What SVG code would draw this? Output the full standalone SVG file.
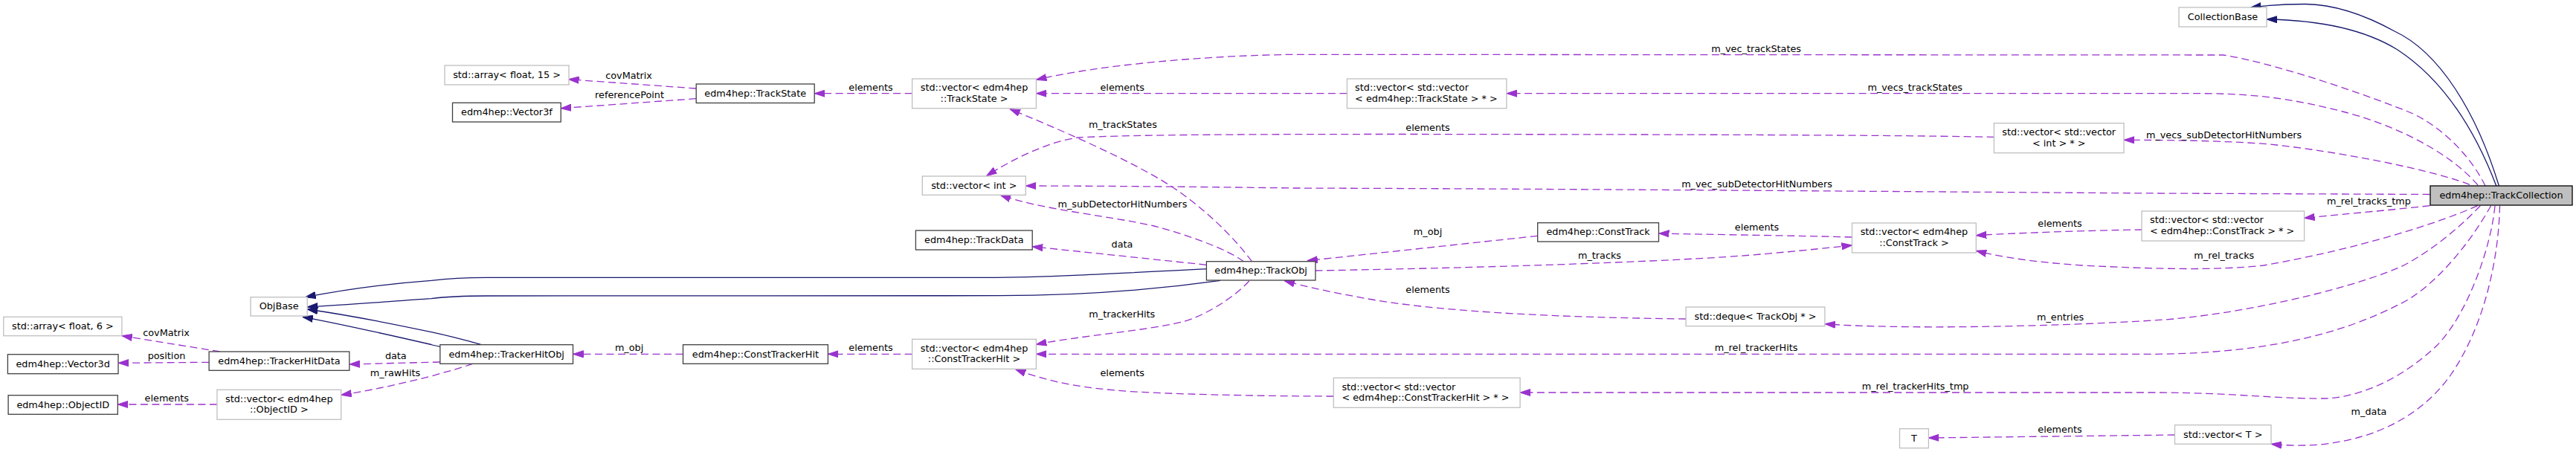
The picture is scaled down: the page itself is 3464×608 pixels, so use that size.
<svg xmlns="http://www.w3.org/2000/svg" width="3464" height="608" viewBox="0 0 3464 608">
<style>
text{font-family:"DejaVu Sans","Liberation Sans",sans-serif;font-size:12.8px;fill:#000}
.m{text-anchor:middle}
.s{text-anchor:start}
.doc{fill:#fff;stroke:#404040;stroke-width:1.3}
.ext{fill:#fff;stroke:#bfbfbf;stroke-width:1.3}
.root{fill:#bfbfbf;stroke:#000;stroke-width:1.3}
.e{fill:none;stroke:#9a32cd;stroke-width:1.3;stroke-dasharray:10,5.5;marker-end:url(#ap)}
.i{fill:none;stroke:#191970;stroke-width:1.3;marker-end:url(#ab)}
</style>
<defs>
<marker id="ap" viewBox="0 0 14 10" refX="14" refY="5" markerWidth="14" markerHeight="10" markerUnits="userSpaceOnUse" orient="auto"><path d="M0,0.4L14,5L0,9.6z" fill="#9a32cd" stroke="#9a32cd" stroke-width="1"/></marker>
<marker id="ab" viewBox="0 0 14 10" refX="14" refY="5" markerWidth="14" markerHeight="10" markerUnits="userSpaceOnUse" orient="auto"><path d="M0,0.4L14,5L0,9.6z" fill="#191970" stroke="#191970" stroke-width="1"/></marker>
</defs>
<rect width="3464" height="608" fill="#fff"/>
<g id="connectors">
<path class="i" d="M3360.4,250 C3330,150 3280,70 3220,42 C3180,20 3140,6 3100,5.5 C3075,5.5 3050,7 3026.6,10"/>
<path class="i" d="M3356.8,250 C3330,180 3290,110 3223.7,66.7 C3180,40 3120,27 3048.2,26"/>
<path class="i" d="M1622.4,361.7 C1500,368 1400,373.3 1326,373.3 L654,373.3 C620,373.5 600,375 580,377.3 C530,381 470,388 410.6,399.7"/>
<path class="i" d="M1640.9,377.3 C1550,390 1450,397.7 1344.9,397.7 L654,398 C620,398 600,399 580,401.7 C530,405 470,410 413.2,413"/>
<path class="i" d="M646.6,463.3 C620,456 600,451 580,446.7 C530,436 470,424 413.2,416"/>
<path class="i" d="M591.8,466.3 C585,465 583,464.5 580,463.5 C530,452 460,436 406.9,426.3"/>
<path class="e" d="M3342,250 C3325,215 3290,175 3245,153 C3190,130 3060,85 2990,74 L1737,73.3 C1620,75 1480,87 1393.4,107.3"/>
<path class="e" d="M3332,249 C3290,200 3210,165 3150,150 C3080,132 3030,126 2960,125.7 L2026,125.7"/>
<path class="e" d="M1811.4,125.7 L1393.4,125.7"/>
<path class="e" d="M1226.6,125.7 L1095.3,125.7"/>
<path class="e" d="M936.2,119 L764.6,106.7"/>
<path class="e" d="M936.2,132.7 L754.2,145.7"/>
<path class="e" d="M2681.4,184.3 C2500,181 2200,181 1900,180.5 C1700,180.5 1520,181 1450,185 C1410,190 1360,215 1326.5,236.7"/>
<path class="e" d="M3321,248.3 C3260,225 3120,200 3044,193.3 C2980,189 2920,188.5 2856,188.3"/>
<path class="e" d="M3267.6,261.5 L2900,260 C2600,258 2100,254 1740,253 C1600,251 1450,250 1379.3,250"/>
<path class="e" d="M1683.4,351.7 C1660,320 1620,280 1574,250 C1520,215 1420,172 1357.9,146.7"/>
<path class="e" d="M1672.3,351.7 C1650,335 1600,317 1552,304 C1490,290 1400,282 1345,262.3"/>
<path class="e" d="M1622.4,356.3 L1388.2,331.7"/>
<path class="e" d="M2067.7,317.3 L1757.8,350.7"/>
<path class="e" d="M1768.9,364 C1900,362 2150,356 2320,345.7 C2400,340 2460,333 2490.5,330"/>
<path class="e" d="M2490.5,319 C2420,317 2300,315.5 2230.5,314"/>
<path class="e" d="M2880.4,309 C2800,310 2700,314 2657.3,316.7"/>
<path class="e" d="M3267.6,276.7 C3200,284 3130,290 3098.6,293.3"/>
<path class="e" d="M3331.6,276.7 C3280,300 3170,335 3044,357 C2980,364 2900,362 2800,357 C2740,353 2690,346 2657.3,337.3"/>
<path class="e" d="M3335.2,276.7 C3300,315 3250,350 3224,360.7 C3150,392 3000,425 2900,430.7 C2750,440 2550,443 2453.9,435.7"/>
<path class="e" d="M2267.1,429 C2100,427 1950,420 1851,404 C1800,395 1760,387 1727,377.5"/>
<path class="e" d="M3349.6,276.7 C3320,330 3270,390 3223.7,410.7 C3150,448 3050,475 2900,476.3 L1393.4,476.3"/>
<path class="e" d="M3355,277 C3350,330 3320,420 3277.7,464 C3240,500 3190,530 3133.8,535.7 C3080,538 3000,528 2900,528 L2044.1,528"/>
<path class="e" d="M1793.3,533 C1700,533 1550,530 1500,525 C1440,520 1400,510 1365.3,496.7"/>
<path class="e" d="M1226.6,476.3 L1113.4,476.3"/>
<path class="e" d="M1679.7,378 C1660,400 1620,425 1590,433 C1540,445 1450,452 1393.4,463.3"/>
<path class="e" d="M918.5,476.3 L770.5,476.3"/>
<path class="e" d="M591.8,487 L469.8,490"/>
<path class="e" d="M635.5,489.3 C620,495 600,500 580,506 C540,516 500,525 458.7,531.3"/>
<path class="e" d="M295.9,473 L163.9,451.7"/>
<path class="e" d="M281.1,487.3 L159,488.3"/>
<path class="e" d="M291.9,544 L158.3,544"/>
<path class="e" d="M2924.5,585 L2593.4,589"/>
<path class="e" d="M3361.5,276.7 C3360,350 3340,440 3295.7,504 C3260,555 3200,590 3120,598 C3095,600 3070,599 3054,597.3"/>
<text class="m" x="2361.6" y="69.7">m_vec_trackStates</text>
<text class="m" x="2575.2" y="122.3">m_vecs_trackStates</text>
<text class="m" x="1509.2" y="122.3">elements</text>
<text class="m" x="1171" y="122.3">elements</text>
<text class="m" x="845.6" y="105.7">covMatrix</text>
<text class="m" x="846.5" y="131.7">referencePoint</text>
<text class="m" x="1920" y="176.3">elements</text>
<text class="m" x="2990.6" y="186">m_vecs_subDetectorHitNumbers</text>
<text class="m" x="2362.5" y="252.3">m_vec_subDetectorHitNumbers</text>
<text class="m" x="1509.9" y="171.7">m_trackStates</text>
<text class="m" x="1509.4" y="279">m_subDetectorHitNumbers</text>
<text class="m" x="1509" y="332.7">data</text>
<text class="m" x="1920" y="315.7">m_obj</text>
<text class="m" x="2151" y="348">m_tracks</text>
<text class="m" x="2362.5" y="310">elements</text>
<text class="m" x="2770" y="304.7">elements</text>
<text class="m" x="3185.4" y="275.3">m_rel_tracks_tmp</text>
<text class="m" x="2990.8" y="347.7">m_rel_tracks</text>
<text class="m" x="2770.6" y="431.3">m_entries</text>
<text class="m" x="1920" y="394.3">elements</text>
<text class="m" x="2361.6" y="472">m_rel_trackerHits</text>
<text class="m" x="2575.6" y="524">m_rel_trackerHits_tmp</text>
<text class="m" x="1509.2" y="506">elements</text>
<text class="m" x="1171" y="472.3">elements</text>
<text class="m" x="1508.8" y="427">m_trackerHits</text>
<text class="m" x="846.1" y="472.3">m_obj</text>
<text class="m" x="532.3" y="483">data</text>
<text class="m" x="531.5" y="506.3">m_rawHits</text>
<text class="m" x="223.6" y="452">covMatrix</text>
<text class="m" x="224" y="483">position</text>
<text class="m" x="224.3" y="540.3">elements</text>
<text class="m" x="2770" y="582.3">elements</text>
<text class="m" x="3185.4" y="558.3">m_data</text>
</g>
<g id="n_CollectionBase"><rect class="ext" x="2930" y="10" width="118" height="26"/><text class="m" x="2989" y="27">CollectionBase</text></g>
<g id="n_TrackCollection"><rect class="root" x="3268" y="250" width="191" height="26"/><text class="m" x="3363.5" y="267">edm4hep::TrackCollection</text></g>
<g id="n_array15"><rect class="ext" x="598" y="88" width="167" height="26"/><text class="m" x="681.5" y="105">std::array&lt; float, 15 &gt;</text></g>
<g id="n_Vector3f"><rect class="doc" x="608.5" y="138.3" width="145.7" height="25.7"/><text class="m" x="681.4" y="155.2">edm4hep::Vector3f</text></g>
<g id="n_TrackState"><rect class="doc" x="936.2" y="113" width="159" height="25.5"/><text class="m" x="1015.7" y="129.7">edm4hep::TrackState</text></g>
<g id="n_vecTrackState"><rect class="ext" x="1226.6" y="106" width="166.8" height="39.7"/><text class="m" x="1310" y="122.1">std::vector&lt; edm4hep</text><text class="m" x="1310" y="136.6">::TrackState &gt;</text></g>
<g id="n_vecvecTrackState"><rect class="ext" x="1811.4" y="106" width="214.5" height="39.7"/><text class="s" x="1822.1" y="122.1">std::vector&lt; std::vector</text><text class="s" x="1822.1" y="136.6">&lt; edm4hep::TrackState &gt; * &gt;</text></g>
<g id="n_vecvecInt"><rect class="ext" x="2681.4" y="165.7" width="174.6" height="40"/><text class="m" x="2768.7" y="182">std::vector&lt; std::vector</text><text class="m" x="2768.7" y="196.5">&lt; int &gt; * &gt;</text></g>
<g id="n_vecInt"><rect class="ext" x="1240.3" y="237" width="139" height="25.3"/><text class="m" x="1309.8" y="253.7">std::vector&lt; int &gt;</text></g>
<g id="n_TrackData"><rect class="doc" x="1231.4" y="310" width="156.8" height="26"/><text class="m" x="1309.8" y="327">edm4hep::TrackData</text></g>
<g id="n_TrackObj"><rect class="doc" x="1622.4" y="351.7" width="146.5" height="25.3"/><text class="m" x="1695.6" y="368.4">edm4hep::TrackObj</text></g>
<g id="n_ConstTrack"><rect class="doc" x="2067.7" y="299.7" width="162.8" height="25.3"/><text class="m" x="2149.1" y="316.4">edm4hep::ConstTrack</text></g>
<g id="n_vecConstTrack"><rect class="ext" x="2490.5" y="300" width="166.8" height="40"/><text class="m" x="2573.9" y="316.2">std::vector&lt; edm4hep</text><text class="m" x="2573.9" y="330.7">::ConstTrack &gt;</text></g>
<g id="n_vecvecConstTrack"><rect class="ext" x="2880" y="284" width="218.6" height="40"/><text class="s" x="2891" y="300.2">std::vector&lt; std::vector</text><text class="s" x="2891" y="314.7">&lt; edm4hep::ConstTrack &gt; * &gt;</text></g>
<g id="n_deque"><rect class="ext" x="2267.1" y="413" width="186.8" height="25.7"/><text class="m" x="2360.5" y="429.9">std::deque&lt; TrackObj * &gt;</text></g>
<g id="n_ObjBase"><rect class="ext" x="337" y="399.7" width="76.2" height="25.3"/><text class="m" x="375.1" y="416.4">ObjBase</text></g>
<g id="n_array6"><rect class="ext" x="4.8" y="426.3" width="159.1" height="25.4"/><text class="m" x="84.35" y="443">std::array&lt; float, 6 &gt;</text></g>
<g id="n_Vector3d"><rect class="doc" x="10.4" y="476.7" width="148.6" height="26"/><text class="m" x="84.7" y="493.7">edm4hep::Vector3d</text></g>
<g id="n_TrackerHitData"><rect class="doc" x="281.1" y="473" width="188.7" height="25.3"/><text class="m" x="375.45" y="489.7">edm4hep::TrackerHitData</text></g>
<g id="n_ObjectID"><rect class="doc" x="11.1" y="531.7" width="147.2" height="25.6"/><text class="m" x="84.7" y="548.5">edm4hep::ObjectID</text></g>
<g id="n_vecObjectID"><rect class="ext" x="291.9" y="524.3" width="166.8" height="40"/><text class="m" x="375.3" y="540.5">std::vector&lt; edm4hep</text><text class="m" x="375.3" y="555">::ObjectID &gt;</text></g>
<g id="n_TrackerHitObj"><rect class="doc" x="591.8" y="463.7" width="178.7" height="25.6"/><text class="m" x="681.15" y="480.5">edm4hep::TrackerHitObj</text></g>
<g id="n_ConstTrackerHit"><rect class="doc" x="918.5" y="463.7" width="194.9" height="25.6"/><text class="m" x="1015.95" y="480.5">edm4hep::ConstTrackerHit</text></g>
<g id="n_vecConstTrackerHit"><rect class="ext" x="1226.6" y="456.3" width="166.8" height="40"/><text class="m" x="1310" y="472.5">std::vector&lt; edm4hep</text><text class="m" x="1310" y="487">::ConstTrackerHit &gt;</text></g>
<g id="n_vecvecConstTrackerHit"><rect class="ext" x="1793.3" y="508.3" width="250.8" height="40"/><text class="s" x="1804.4" y="524.5">std::vector&lt; std::vector</text><text class="s" x="1804.4" y="539">&lt; edm4hep::ConstTrackerHit &gt; * &gt;</text></g>
<g id="n_T"><rect class="ext" x="2554.5" y="576.7" width="38.9" height="26"/><text class="m" x="2574" y="593.7">T</text></g>
<g id="n_vecT"><rect class="ext" x="2924.5" y="571.7" width="129.5" height="25.6"/><text class="m" x="2989.25" y="588.5">std::vector&lt; T &gt;</text></g>
</svg>
